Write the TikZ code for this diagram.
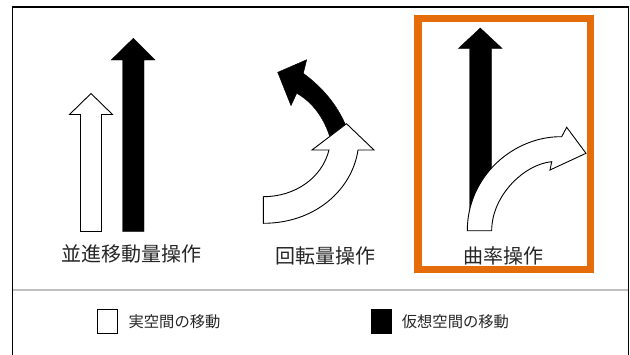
\documentclass[tikz,border=0pt]{standalone}
\usepackage{fontspec}
\newfontfamily\jp{Noto Sans CJK JP}
\definecolor{frameorange}{HTML}{E46C0A}
\begin{document}
\begin{tikzpicture}[x=1pt,y=-1pt,
  whitearrow/.style={fill=white,draw=black,line width=0.9pt,line join=miter},
  blackarrow/.style={fill=black,draw=black,line width=0.4pt,line join=miter},
  label/.style={font=\jp\fontsize{20}{24}\selectfont,text=black!85,anchor=base,inner sep=0pt},
  legendtext/.style={font=\jp\fontsize{15.3}{18}\selectfont,text=black!85,anchor=base,inner sep=0pt},
  legendbox/.style={draw=black,line width=1pt,minimum width=20pt,minimum height=23.5pt,inner sep=0pt}]
\useasboundingbox (0,0) rectangle (630,354);
\fill[white] (0,0) rectangle (630,354);
% outer frame
\draw[black,line width=1.5pt] (12.5,380) -- (12.5,7) -- (628.3,7) -- (628.3,380);
% separator
\draw[black!25,line width=2pt] (12.5,290) -- (628.3,290);
% highlight frame
\draw[frameorange,line width=7.5pt] (418,18.5) rectangle (590.5,269.5);
% left: translation
\draw[whitearrow] (80.5,231.5) -- (80.5,114.5) -- (69.5,114.5) -- (91,93.5) -- (112.5,114.5) -- (101.5,114.5) -- (101.5,231.5) -- cycle;
\draw[blackarrow] (122.5,231.5) -- (122.5,60) -- (111.2,60) -- (133.3,38.3) -- (155,60) -- (144,60) -- (144,231.5) -- cycle;
% middle: rotation
\draw[blackarrow] (350,138) .. controls (343,112) and (326,90) .. (303.3,73.3) -- (306.7,59.7) -- (277.7,72.3) -- (291,105.7) -- (296.7,93.3) .. controls (312,102) and (326,118) .. (333,148) -- cycle;
\draw[whitearrow] (263.3,223.3) .. controls (315,223.3) and (352,190) .. (358,150) -- (374,150) -- (346.5,123.7) -- (312,150) -- (329,150) .. controls (322,178) and (295,196.7) .. (263.3,196.7) -- cycle;
% right: curvature
\draw[blackarrow] (469.5,230) -- (469.5,48.3) -- (458.5,48.3) -- (480.3,28) -- (502,48.3) -- (491.5,48.3) -- (491.5,230) -- cycle;
\draw[whitearrow] (467.3,230.7) .. controls (467.3,175) and (515,136) .. (561.7,136.7) -- (566.7,127.3) -- (586,153.3) -- (550,170) -- (551.7,161.7) .. controls (525,164) and (491.7,195) .. (491.7,230.7) -- cycle;
% labels
\node[label] (l1) at (131.7,261.5) {並進移動量操作};
\node[label] (l2) at (325,263.5) {回転量操作};
\node[label] (l3) at (503,263.5) {曲率操作};
% legend
\node[legendbox,fill=white] (lw) at (107.7,321.3) {};
\node[legendtext] (tw) at (174.5,327) {実空間の移動};
\node[legendbox,fill=black] (lb) at (381.5,321.3) {};
\node[legendtext] (tb) at (455.4,327) {仮想空間の移動};
\end{tikzpicture}
\end{document}
